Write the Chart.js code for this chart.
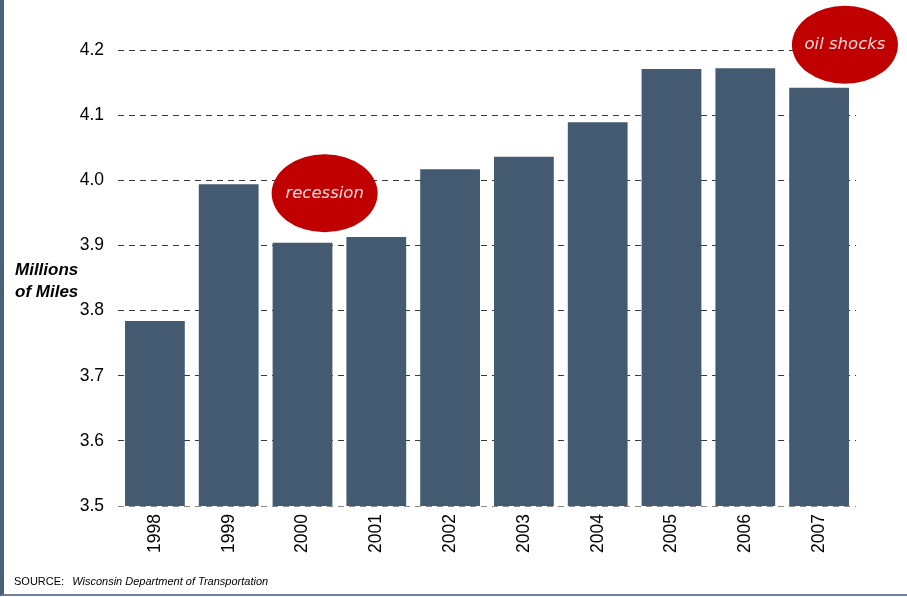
<!DOCTYPE html>
<html>
<head>
<meta charset="utf-8">
<script src="https://cdn.jsdelivr.net/npm/chart.js@4"></script>
<style>
  html, body { margin: 0; padding: 0; background: #fff; }
  #wrap { position: relative; width: 907px; height: 597px; overflow: hidden; }
  #frame { position: absolute; left: 0; top: 0; width: 907px; height: 596px; box-sizing: border-box;
           border-left: 4px solid #4b6079; border-bottom: 2px solid #6f8196; }
  #graphCanvas { position: absolute; left: 0; top: 0; }
  .ytitle { position: absolute; left: 15px; top: 259px; font: italic bold 17px "Liberation Sans", Arial, sans-serif; line-height: 22px; color: #000; }
  .source { position: absolute; left: 14px; top: 575px; font: 11px "Liberation Sans", Arial, sans-serif; color: #000; }
  .source i { margin-left: 5px; }
</style>
</head>
<body>
<div id="wrap">
  <div id="frame"></div>
  <canvas id="graphCanvas" width="907" height="597"></canvas>
  <div class="ytitle">Millions<br>of Miles</div>
  <div class="source">SOURCE: <i>Wisconsin Department of Transportation</i></div>
</div>
<script>
const years = ["1998", "1999", "2000", "2001", "2002", "2003", "2004", "2005", "2006", "2007"];
const miles = [3.784, 3.994, 3.904, 3.913, 4.017, 4.036, 4.089, 4.171, 4.172, 4.142];
const yTicks = [3.5, 3.6, 3.7, 3.8, 3.9, 4.0, 4.1, 4.2];

// red ellipse callouts: category position and value of the centre
const noteLabels = ["recession", "oil shocks"];
const noteX = [2.3, 9.35];
const noteY = [3.98, 4.208];

let canvas = null;
let ctx = null;
let chart = null;

const notesPlugin = {
    id: "notes",
    afterDatasetsDraw(c){
        const g = c.ctx;
        const xs = c.scales.x, ys = c.scales.y;
        g.save();
        // dashed base line drawn over the bars
        const yb = Math.round(ys.getPixelForValue(3.5)) + 0.5;
        g.strokeStyle = "#8a8a8a";
        g.lineWidth = 1;
        g.setLineDash([6, 5]);
        g.beginPath();
        g.moveTo(xs.left, yb);
        g.lineTo(xs.right, yb);
        g.stroke();
        g.setLineDash([]);
        for(let i = 0; i < noteLabels.length; i++){
            const cx = xs.getPixelForValue(noteX[i]);
            const cy = ys.getPixelForValue(noteY[i]);
            g.beginPath();
            g.ellipse(cx, cy, 53, 39, 0, 0, Math.PI*2);
            g.fillStyle = "#c00000";
            g.fill();
            g.fillStyle = "#f6dcdc";
            g.font = "italic 16.5px 'DejaVu Sans', Verdana, sans-serif";
            g.textAlign = "center";
            g.textBaseline = "middle";
            g.fillText(noteLabels[i], cx, cy);
        }
        g.restore();
    }
};

function startChart(){
    canvas = document.getElementById("graphCanvas");
    ctx = canvas.getContext("2d");
    chart = new Chart(ctx, {
        type: "bar",
        data: {
            labels: years,
            datasets: [{
                data: miles,
                backgroundColor: "#445a71",
                barPercentage: 0.81,
                categoryPercentage: 1.0
            }]
        },
        options: {
            responsive: false,
            animation: false,
            layout: { padding: { left: 0, right: 51, top: 50, bottom: 21 } },
            plugins: { legend: { display: false }, tooltip: { enabled: false } },
            scales: {
                x: {
                    grid: { display: false, drawTicks: false },
                    border: { display: false },
                    ticks: {
                        minRotation: 90, maxRotation: 90, padding: 8,
                        color: "#000",
                        font: { family: "'Liberation Sans', Arial, sans-serif", size: 17.5 }
                    },
                    afterFit(s){ s.height = 70; }
                },
                y: {
                    min: 3.5, max: 4.2,
                    afterBuildTicks(s){ s.ticks = yTicks.map(v => ({ value: v })); },
                    grid: {
                        color: c => c.tick && c.tick.value === 3.5 ? "rgba(0,0,0,0)" : "#3a3a3a",
                        tickLength: 0, drawTicks: false
                    },
                    border: { display: false, dash: [6, 5] },
                    ticks: {
                        padding: 14,
                        color: "#000",
                        font: { family: "'Liberation Sans', Arial, sans-serif", size: 17.5 },
                        callback: v => Number(v).toFixed(1)
                    },
                    afterFit(s){ s.width = 118; }
                }
            }
        },
        plugins: [notesPlugin]
    });
}

startChart();
</script>
</body>
</html>
